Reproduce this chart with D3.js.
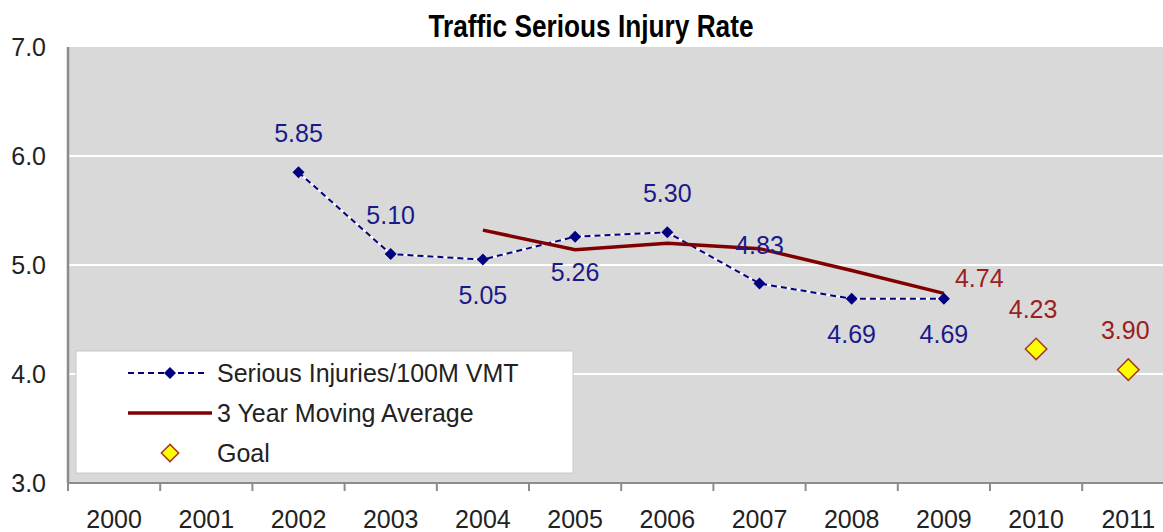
<!DOCTYPE html>
<html>
<head>
<meta charset="utf-8">
<script src="https://cdn.jsdelivr.net/npm/d3@7"></script>
<style>
  body { margin: 0; background: #fff; }
  svg { display: block; font-family: "Liberation Sans", Arial, sans-serif; }
</style>
</head>
<body>
<svg id="chart" width="1163" height="532"></svg>
<script>
// chart values
var years = ["2000", "2001", "2002", "2003", "2004", "2005", "2006", "2007", "2008", "2009", "2010", "2011"];
var injuryYears = ["2002", "2003", "2004", "2005", "2006", "2007", "2008", "2009"];
var injuryRates = [5.85, 5.10, 5.05, 5.26, 5.30, 4.83, 4.69, 4.69];
var avgYears = ["2004", "2005", "2006", "2007", "2008", "2009"];
var avgRates = [5.32, 5.14, 5.20, 5.15, 4.95, 4.74];
var goalYears = ["2010", "2011"];
var goalRates = [4.23, 4.04];        // where the markers sit
var goalLabels = ["4.23", "3.90"];  // what the labels say
var yTicks = [3, 4, 5, 6, 7];
var legendNames = ["Serious Injuries/100M VMT", "3 Year Moving Average", "Goal"];

(function() {
  var svg = d3.select("#chart");

  var plotLeft = 68, plotTop = 47, plotBottom = 483;
  var bandW = 92.2;

  var x = d3.scaleBand()
    .domain(years)
    .range([plotLeft, plotLeft + bandW * years.length]);

  var y = d3.scaleLinear()
    .domain([3, 7])
    .range([plotBottom, plotTop]);

  var cx = function(d) { return x(d) + x.bandwidth() / 2; };

  // plot background
  svg.append("rect")
    .attr("x", plotLeft)
    .attr("y", plotTop)
    .attr("width", x.range()[1] - plotLeft)
    .attr("height", plotBottom - plotTop)
    .attr("fill", "#d9d9d9");

  // gridlines
  svg.append("g")
    .selectAll("line")
    .data(yTicks.filter(function(d) { return d > 3 && d < 7; }))
    .enter()
    .append("line")
    .attr("x1", plotLeft)
    .attr("x2", x.range()[1])
    .attr("y1", function(d) { return y(d); })
    .attr("y2", function(d) { return y(d); })
    .attr("stroke", "#fff")
    .attr("stroke-width", 2);

  // y axis labels
  var yAxis = svg.append("g")
    .attr("transform", "translate(" + plotLeft + ",0)")
    .call(d3.axisLeft(y).tickValues(yTicks).tickFormat(d3.format(".1f")).tickSize(0).tickPadding(22));
  yAxis.select(".domain").remove();
  yAxis.selectAll("text")
    .attr("font-size", 25)
    .attr("fill", "#222")
    .attr("font-family", "Liberation Sans, Arial, sans-serif");

  // x axis labels
  var xAxis = svg.append("g")
    .attr("transform", "translate(0," + plotBottom + ")")
    .call(d3.axisBottom(x).tickSize(0).tickPadding(27));
  xAxis.select(".domain").remove();
  xAxis.selectAll("text")
    .attr("font-size", 25)
    .attr("fill", "#222")
    .attr("font-family", "Liberation Sans, Arial, sans-serif");

  // tick marks sit between the categories
  svg.append("g")
    .selectAll("line")
    .data(years)
    .enter()
    .append("line")
    .attr("x1", function(d) { return x(d); })
    .attr("x2", function(d) { return x(d); })
    .attr("y1", plotBottom)
    .attr("y2", plotBottom + 8)
    .attr("stroke", "#8c8c8c")
    .attr("stroke-width", 2);

  // axis lines
  svg.append("line")
    .attr("x1", plotLeft).attr("x2", plotLeft)
    .attr("y1", plotTop).attr("y2", plotBottom)
    .attr("stroke", "#8c8c8c")
    .attr("stroke-width", 2.5);
  svg.append("line")
    .attr("x1", plotLeft).attr("x2", x.range()[1])
    .attr("y1", plotBottom).attr("y2", plotBottom)
    .attr("stroke", "#8c8c8c")
    .attr("stroke-width", 2);

  // legend box
  svg.append("rect")
    .attr("x", 76)
    .attr("y", 351)
    .attr("width", 497)
    .attr("height", 122)
    .attr("fill", "#fff")
    .attr("stroke", "#c8c8c8")
    .attr("stroke-width", 1);

  var diamond = function(size) {
    return d3.symbol().type(d3.symbolSquare).size(size)();
  };

  // serious injuries: white line under navy dashes
  var injuries = injuryYears.map(function(yr, i) { return {year: yr, value: injuryRates[i]}; });
  var line = d3.line()
    .x(function(d) { return cx(d.year); })
    .y(function(d) { return y(d.value); });

  svg.append("path")
    .datum(injuries)
    .attr("d", line)
    .attr("fill", "none")
    .attr("stroke", "#fff")
    .attr("stroke-width", 2);
  svg.append("path")
    .datum(injuries)
    .attr("d", line)
    .attr("fill", "none")
    .attr("stroke", "#000080")
    .attr("stroke-width", 2)
    .attr("stroke-dasharray", "6,4");

  // moving average
  var averages = avgYears.map(function(yr, i) { return {year: yr, value: avgRates[i]}; });
  svg.append("path")
    .datum(averages)
    .attr("d", line)
    .attr("fill", "none")
    .attr("stroke", "#800000")
    .attr("stroke-width", 3.5);

  svg.append("g")
    .selectAll("path")
    .data(injuries)
    .enter()
    .append("path")
    .attr("d", diamond(72))
    .attr("transform", function(d) { return "translate(" + cx(d.year) + "," + y(d.value) + ") rotate(45)"; })
    .attr("fill", "#000080");

  // goal markers
  var goals = goalYears.map(function(yr, i) { return {year: yr, value: goalRates[i], label: goalLabels[i]}; });
  svg.append("g")
    .selectAll("path")
    .data(goals)
    .enter()
    .append("path")
    .attr("d", diamond(230))
    .attr("transform", function(d) { return "translate(" + cx(d.year) + "," + y(d.value) + ") rotate(45)"; })
    .attr("fill", "#ffff00")
    .attr("stroke", "#a33a2a")
    .attr("stroke-width", 1.5);

  // data labels
  var below = ["2004", "2005", "2008", "2009"];
  svg.append("g")
    .selectAll("text")
    .data(injuries)
    .enter()
    .append("text")
    .attr("x", function(d) { return cx(d.year); })
    .attr("y", function(d) { return y(d.value) + (below.indexOf(d.year) >= 0 ? 35 : -39); })
    .attr("dy", "0.36em")
    .attr("text-anchor", "middle")
    .attr("font-size", 25)
    .attr("fill", "#1a1a8a")
    .text(function(d) { return d3.format(".2f")(d.value); });

  var lastAvg = averages[averages.length - 1];
  svg.append("text")
    .attr("x", cx(lastAvg.year) + 11)
    .attr("y", y(lastAvg.value) - 15)
    .attr("dy", "0.36em")
    .attr("font-size", 25)
    .attr("fill", "#9b2020")
    .text(d3.format(".2f")(lastAvg.value));

  svg.append("g")
    .selectAll("text")
    .data(goals)
    .enter()
    .append("text")
    .attr("x", function(d) { return cx(d.year) - 3; })
    .attr("y", function(d) { return y(d.value) - 40; })
    .attr("dy", "0.36em")
    .attr("text-anchor", "middle")
    .attr("font-size", 25)
    .attr("fill", "#9b2020")
    .text(function(d) { return d.label; });

  // legend entries
  var legendY = [373, 413, 453];
  var lg = svg.append("g");
  lg.append("line")
    .attr("x1", 128).attr("x2", 208)
    .attr("y1", legendY[0]).attr("y2", legendY[0])
    .attr("stroke", "#000080")
    .attr("stroke-width", 2)
    .attr("stroke-dasharray", "6,4");
  lg.append("path")
    .attr("d", diamond(72))
    .attr("transform", "translate(170," + legendY[0] + ") rotate(45)")
    .attr("fill", "#000080");
  lg.append("line")
    .attr("x1", 128).attr("x2", 212)
    .attr("y1", legendY[1]).attr("y2", legendY[1])
    .attr("stroke", "#800000")
    .attr("stroke-width", 3.5);
  lg.append("path")
    .attr("d", diamond(150))
    .attr("transform", "translate(170," + legendY[2] + ") rotate(45)")
    .attr("fill", "#ffff00")
    .attr("stroke", "#a33a2a")
    .attr("stroke-width", 1.5);
  lg.selectAll("text")
    .data(legendNames)
    .enter()
    .append("text")
    .attr("x", 217)
    .attr("y", function(d, i) { return legendY[i]; })
    .attr("dy", "0.36em")
    .attr("font-size", 25)
    .attr("fill", "#222")
    .text(function(d) { return d; });

  // title, squeezed to match the narrow bold face
  svg.append("text")
    .attr("x", 591)
    .attr("y", 37)
    .attr("text-anchor", "middle")
    .attr("font-family", "Liberation Sans, Arial, sans-serif")
    .attr("font-weight", "bold")
    .attr("font-size", 31)
    .attr("textLength", 325)
    .attr("lengthAdjust", "spacingAndGlyphs")
    .attr("fill", "#000")
    .text("Traffic Serious Injury Rate");
})();
</script>
</body>
</html>
